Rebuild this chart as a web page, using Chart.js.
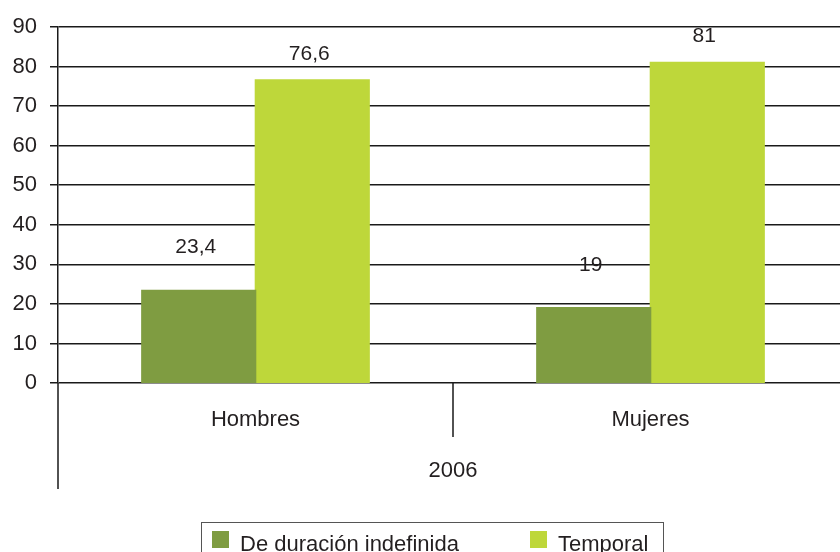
<!DOCTYPE html>
<html>
<head>
<meta charset="utf-8">
<script src="https://cdn.jsdelivr.net/npm/chart.js@4.4.0/dist/chart.umd.min.js"></script>
<style>
  html, body { margin: 0; padding: 0; background: #fff; overflow: hidden; }
  #wrap { width: 850px; height: 552px; }
</style>
</head>
<body>
<div id="wrap"><canvas id="myChart"></canvas></div>
<script>
// datos del grafico
var categorias = ['Hombres', 'Mujeres'];
var grupo = '2006';
var indefinida = [23.4, 19];
var temporal = [76.6, 81];
var nombresSeries = ['De duración indefinida', 'Temporal'];
var ticksY = [0, 10, 20, 30, 40, 50, 60, 70, 80, 90];

var colorOscuro = '#7f9c41';
var colorClaro = '#bed73a';
var colorTexto = '#231f20';
var fuente = '"Liberation Sans", Arial, sans-serif';

function formato(v) {
    return v.toString().replace('.', ',');
}

// etiquetas encima de las barras
var etiquetas = {
    id: 'etiquetas',
    afterDatasetsDraw: function (chart) {
        var ctx = chart.ctx;
        var offsets = [43, 26];
        ctx.save();
        ctx.font = '21px ' + fuente;
        ctx.fillStyle = colorTexto;
        ctx.textAlign = 'center';
        ctx.textBaseline = 'middle';
        chart.data.datasets.forEach(function (ds, i) {
            chart.getDatasetMeta(i).data.forEach(function (bar, j) {
                ctx.fillText(formato(ds.data[j]), bar.x - 3, bar.y - offsets[i]);
            });
        });
        ctx.restore();
    }
};

// eje de categorias en dos niveles y leyenda con borde
var extras = {
    id: 'extras',
    afterDraw: function (chart) {
        var ctx = chart.ctx;
        var area = chart.chartArea;
        var x = chart.scales.x;
        ctx.save();
        ctx.strokeStyle = '#1a1a1a';
        ctx.lineWidth = 1.5;
        ctx.beginPath();
        ctx.moveTo(area.left, area.bottom);
        ctx.lineTo(area.left, area.bottom + 106);
        var medio = (x.getPixelForValue(0) + x.getPixelForValue(1)) / 2;
        ctx.moveTo(medio, area.bottom);
        ctx.lineTo(medio, area.bottom + 54);
        ctx.stroke();

        ctx.font = '22px ' + fuente;
        ctx.fillStyle = colorTexto;
        ctx.textAlign = 'center';
        ctx.textBaseline = 'middle';
        ctx.fillText(grupo, medio, 471);

        // leyenda
        ctx.strokeStyle = '#555';
        ctx.lineWidth = 1;
        ctx.strokeRect(201.5, 522.5, 462, 40);
        var posiciones = [212, 530];
        ctx.textAlign = 'left';
        chart.data.datasets.forEach(function (ds, i) {
            ctx.fillStyle = ds.backgroundColor;
            ctx.fillRect(posiciones[i], 531, 17, 17);
            ctx.fillStyle = colorTexto;
            ctx.fillText(ds.label, posiciones[i] + 28, 545);
        });
        ctx.restore();
    }
};

var ctx = document.getElementById('myChart').getContext('2d');
var chart = new Chart(ctx, {
    type: 'bar',
    data: {
        labels: categorias,
        datasets: [{
            label: nombresSeries[0],
            data: indefinida,
            backgroundColor: colorOscuro
        }, {
            label: nombresSeries[1],
            data: temporal,
            backgroundColor: colorClaro
        }]
    },
    options: {
        responsive: true,
        maintainAspectRatio: false,
        animation: false,
        layout: { padding: { top: 27, right: 2, left: 0, bottom: 0 } },
        datasets: {
            bar: { barPercentage: 1, categoryPercentage: 0.575, inflateAmount: 0.8 }
        },
        plugins: {
            legend: { display: false },
            tooltip: { enabled: false }
        },
        scales: {
            x: {
                grid: { display: false },
                border: { display: false },
                ticks: {
                    color: colorTexto,
                    font: { family: fuente, size: 22 },
                    padding: 16
                },
                afterFit: function (scale) { scale.height = 169; }
            },
            y: {
                min: 0,
                max: 90,
                afterBuildTicks: function (scale) {
                    scale.ticks = ticksY.map(function (v) { return { value: v }; });
                },
                grid: { color: '#1a1a1a', lineWidth: 1.5, tickLength: 8 },
                border: { display: true, color: '#1a1a1a', width: 1.5 },
                ticks: {
                    color: colorTexto,
                    font: { family: fuente, size: 22 },
                    padding: 13
                },
                afterFit: function (scale) { scale.width = 58; }
            }
        }
    },
    plugins: [etiquetas, extras]
});
</script>
</body>
</html>
